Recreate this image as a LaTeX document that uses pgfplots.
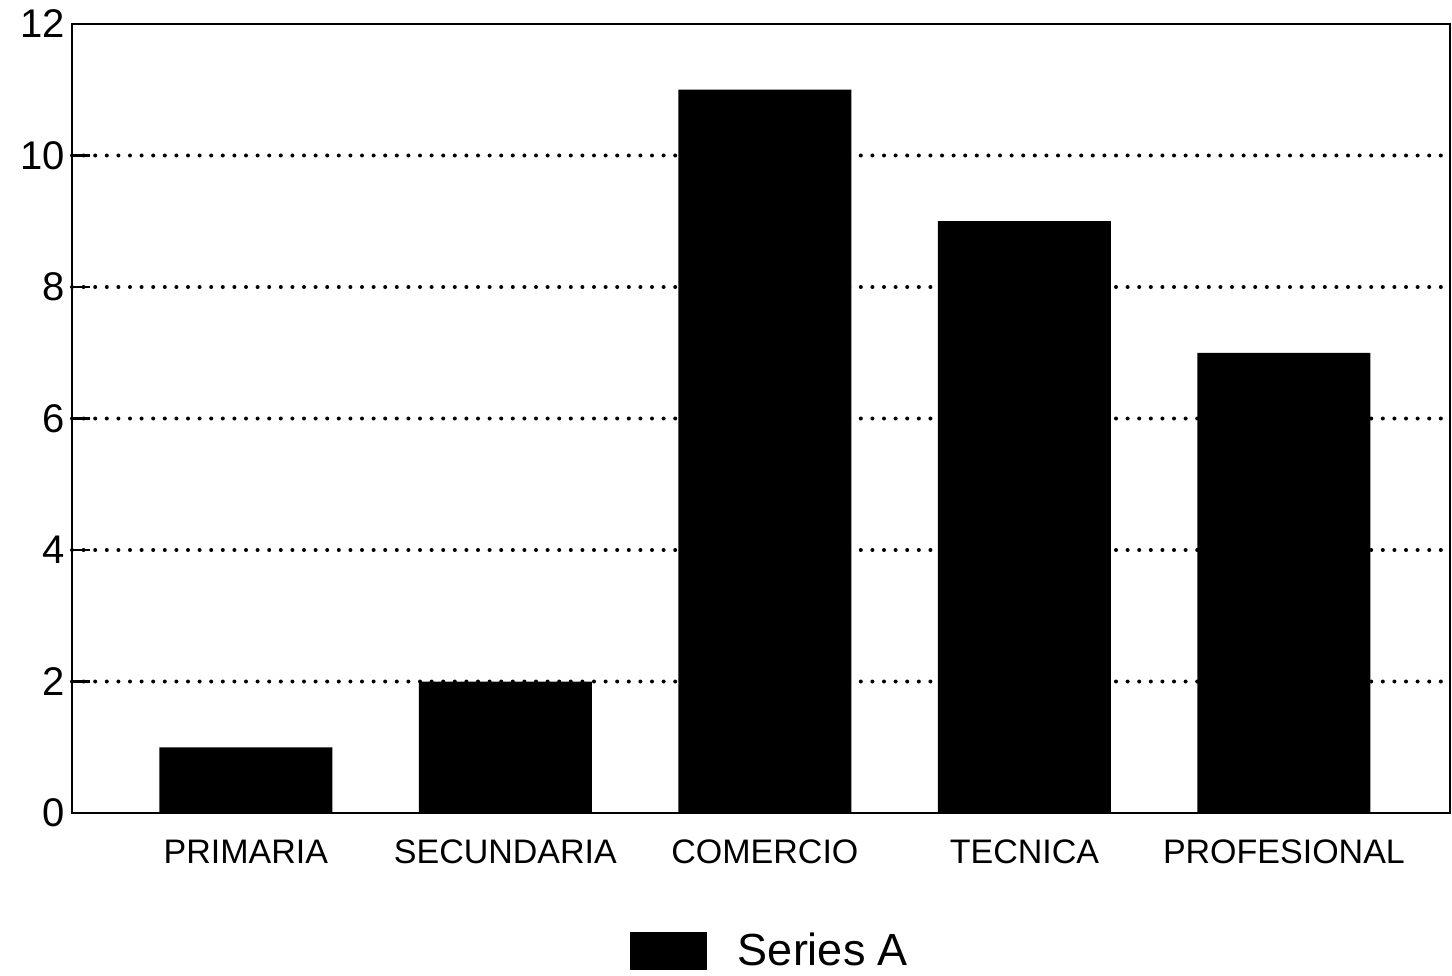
\documentclass[border=0pt]{standalone}
\usepackage{pgfplots}
\pgfplotsset{compat=1.18}
\usepackage{fontspec}
\setmainfont{Liberation Sans}

\begin{document}
\begin{tikzpicture}
\begin{axis}[
  width=689pt, height=394.5pt, scale only axis,
  xmin=-0.67, xmax=4.64,
  ymin=0, ymax=12,
  ytick={2,4,...,10},
  extra y ticks={0,12},
  extra y tick style={grid=none},
  xtick=data,
  xticklabels={PRIMARIA,SECUNDARIA,COMERCIO,TECNICA,PROFESIONAL},
  x tick style={draw=none},
  y tick style={line width=1.2pt, black},
  major tick length=9pt,
  tick align=inside,
  ytick pos=left,
  ymajorgrids,
  major grid style={line width=2pt, dash pattern=on 0pt off 5.8pt, line cap=round, black},
  axis line style={line width=1.4pt},
  /pgf/number format/assume math mode=true,
  yticklabel style={font=\fontsize{20}{22}\selectfont},
  xticklabel style={font=\fontsize{17}{20}\selectfont, yshift=-10pt},
  legend style={at={(0.5,-0.175)}, anchor=center, xshift=5pt, draw=none,
    font=\fontsize{22.5}{25}\selectfont, column sep=6pt},
  legend image code/.code={\fill[black] (0pt,-9.5pt) rectangle (38.5pt,9.5pt);
    \path (46pt,0pt);},
]
\addplot[ybar, bar width=86.5pt, fill=black, draw=none] coordinates {(0,1) (1,2) (2,11) (3,9) (4,7)};
\legend{Series A}
\coordinate (bl) at (rel axis cs:0,0);
\coordinate (tr) at (rel axis cs:1,1);
\end{axis}
\pgfresetboundingbox
\path ([shift={(-36pt,-81pt)}]bl) rectangle ([shift={(1pt,12pt)}]tr);
\end{tikzpicture}
\end{document}
